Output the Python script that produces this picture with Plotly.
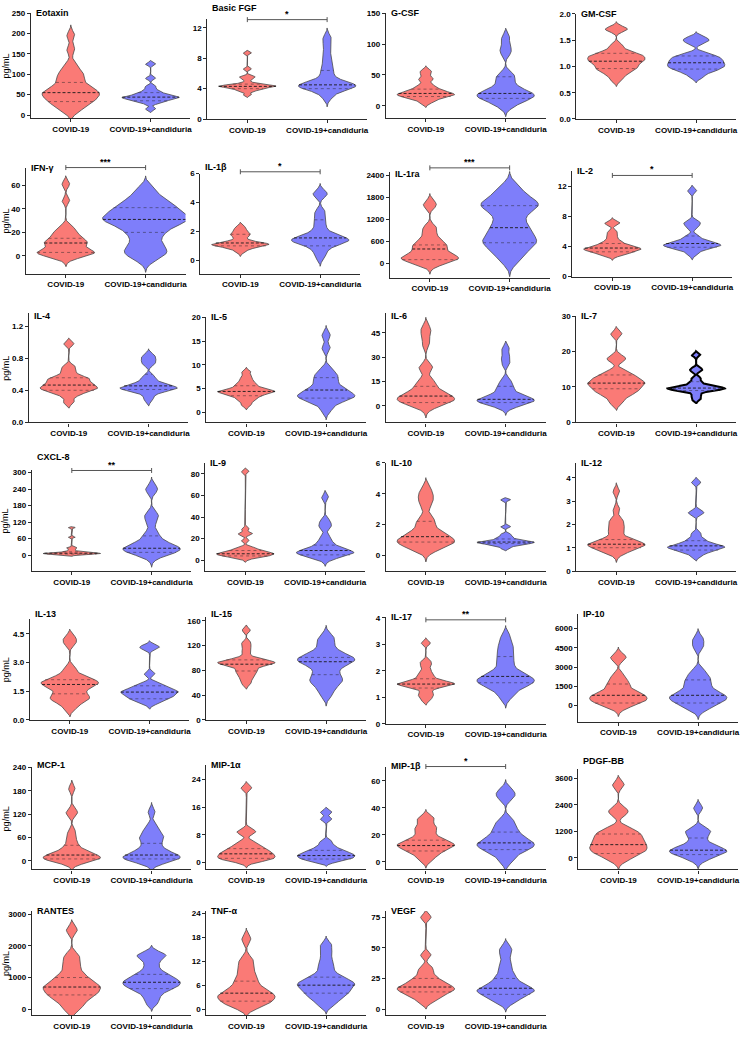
import numpy as np
import plotly.graph_objects as go

W, H = 749, 1041
FONT = "Liberation Sans, Arial, sans-serif"

groups = ["COVID-19", "COVID-19+candiduria"]
analytes = ["Eotaxin", "Basic FGF", "G-CSF", "GM-CSF",
            "IFN-γ", "IL-1β", "IL-1ra", "IL-2",
            "IL-4", "IL-5", "IL-6", "IL-7",
            "CXCL-8", "IL-9", "IL-10", "IL-12",
            "IL-13", "IL-15", "IL-17", "IP-10",
            "MCP-1", "MIP-1α", "MIP-1β", "PDGF-BB",
            "RANTES", "TNF-α", "VEGF"]

# ---- estimated sample values (pg/mL) read from the violin shapes ----
eotaxin_covid = [8, 18, 25, 30, 33, 38, 42, 46, 50, 53, 55, 58, 62, 66, 72, 80, 88, 95, 102, 110, 125, 160, 195]
eotaxin_cand = [15, 28, 33, 36, 38, 40, 42, 43, 44, 45, 47, 50, 53, 56, 62, 70, 90, 125]
fgf_covid = [3.2, 3.6, 3.8, 3.9, 4.0, 4.1, 4.2, 4.25, 4.3, 4.3, 4.35, 4.4, 4.45, 4.5, 4.6, 4.8, 5.2, 5.5, 5.6, 6.6, 8.7]
fgf_cand = [2.8, 3.4, 3.8, 4.0, 4.1, 4.2, 4.3, 4.4, 4.5, 4.5, 4.6, 4.8, 5.0, 5.4, 6.0, 6.5, 7.2, 8.0, 9.0, 10.0, 10.8]
gcsf_covid = [5, 9, 12, 14, 15, 16, 17, 18, 19, 20, 21, 22, 24, 26, 28, 31, 35, 42, 45, 52, 57]
gcsf_cand = [-2, 4, 8, 11, 13, 15, 16, 18, 20, 22, 24, 28, 33, 40, 47, 52, 85, 95, 110]
gmcsf_covid = [0.75, 0.85, 0.9, 0.95, 0.97, 1.0, 1.05, 1.08, 1.1, 1.12, 1.15, 1.18, 1.2, 1.22, 1.25, 1.3, 1.4, 1.7, 1.72]
gmcsf_cand = [0.8, 0.88, 0.92, 0.95, 0.98, 1.0, 1.02, 1.05, 1.07, 1.1, 1.12, 1.15, 1.18, 1.2, 1.25, 1.45, 1.5, 1.55]
ifng_covid = [-2, 0, 1, 2, 2.5, 3, 3.5, 4, 5, 7, 9, 10, 11, 12, 13, 14, 16, 18, 20, 22, 25, 47, 61]
ifng_cand = [-3, 1, 3, 5, 8, 12, 16, 20, 22, 25, 27, 29, 30, 31, 32, 33, 34, 36, 38, 40, 41, 43, 45, 48, 52, 57]
il1b_covid = [0.6, 0.8, 0.9, 1.0, 1.0, 1.05, 1.1, 1.1, 1.15, 1.2, 1.2, 1.3, 1.5, 1.7, 1.8, 1.9, 2.1, 2.3]
il1b_cand = [0.2, 0.6, 0.9, 1.1, 1.2, 1.3, 1.35, 1.4, 1.45, 1.5, 1.6, 1.7, 1.9, 2.2, 2.6, 3.0, 3.4, 4.5, 4.7]
il1ra_covid = [-50, 20, 60, 90, 120, 140, 160, 180, 200, 250, 320, 380, 420, 480, 520, 560, 650, 750, 900, 1000, 1550, 1650]
il1ra_cand = [50, 200, 350, 450, 520, 580, 650, 700, 800, 900, 1000, 1100, 1250, 1400, 1500, 1550, 1600, 1650, 1700, 1800, 1950, 2100]
il2_covid = [2.8, 3.0, 3.2, 3.3, 3.4, 3.5, 3.6, 3.7, 3.75, 3.8, 3.9, 4.0, 4.2, 4.4, 4.6, 5.0, 5.5, 6.0, 7.0, 7.2]
il2_cand = [3.0, 3.5, 3.8, 3.9, 4.0, 4.1, 4.2, 4.3, 4.4, 4.5, 4.7, 5.0, 5.4, 6.5, 7.0, 7.3, 11.4]
il4_covid = [0.25, 0.32, 0.36, 0.38, 0.40, 0.41, 0.42, 0.43, 0.44, 0.46, 0.47, 0.48, 0.50, 0.52, 0.54, 0.55, 0.56, 0.60, 0.65, 0.70, 0.98]
il4_cand = [0.28, 0.34, 0.38, 0.40, 0.41, 0.42, 0.42, 0.43, 0.44, 0.45, 0.46, 0.48, 0.50, 0.54, 0.58, 0.72, 0.76, 0.80, 0.84]
il5_covid = [1.5, 2.3, 2.8, 3.2, 3.5, 3.8, 4.0, 4.2, 4.3, 4.4, 4.5, 4.6, 4.8, 5.1, 5.5, 5.8, 6.2, 6.8, 7.5, 8.5]
il5_cand = [0.5, 1.8, 2.5, 2.9, 3.1, 3.3, 3.5, 3.7, 4.0, 4.5, 4.8, 5.3, 6.0, 6.8, 7.4, 8.0, 9.0, 13.5, 16.2]
il6_covid = [-1, 1, 2, 2.5, 3, 3.5, 4, 5, 6, 6.5, 7, 8, 10, 12, 14, 16, 23, 24, 38, 44, 48]
il6_cand = [-1, 0.5, 1.5, 2, 2.5, 3, 3.5, 4, 4.5, 5, 6, 7, 9, 11, 13, 16, 26, 30, 35]
il7_covid = [5.5, 7, 8, 8.5, 9, 9.5, 10, 10.5, 11, 11, 11.5, 12, 12.5, 13, 13.5, 14.5, 17.5, 18.5, 25]
il7_cand = [6.5, 7.5, 8.5, 9, 9.2, 9.4, 9.5, 9.6, 9.7, 9.8, 10, 10.3, 10.8, 11.5, 12.5, 14.5, 15.2, 19]
cxcl8_covid = [1, 2, 3, 4, 4.5, 5, 5.5, 6, 6.5, 7, 7.5, 8, 9, 10, 12, 15, 20, 25, 28, 65, 100]
cxcl8_cand = [-5, 5, 10, 14, 18, 20, 22, 25, 28, 32, 38, 45, 55, 70, 85, 120, 140, 150, 235, 245]
il9_covid = [1.5, 3, 3.5, 4, 4.5, 5, 5.5, 6, 6, 6.5, 7, 7.5, 8, 9, 10, 11, 12, 18, 24, 25, 29, 82]
il9_cand = [1, 3, 4.5, 5.5, 6, 6.5, 7, 7.5, 8, 9, 10, 11, 13, 15, 18, 22, 30, 33, 37, 58]
il10_covid = [0.3, 0.5, 0.6, 0.7, 0.8, 0.85, 0.9, 1.0, 1.1, 1.2, 1.3, 1.4, 1.6, 1.9, 2.2, 2.4, 3.2, 3.6, 3.9, 4.3]
il10_cand = [0.45, 0.6, 0.65, 0.7, 0.75, 0.78, 0.8, 0.82, 0.85, 0.88, 0.9, 0.95, 1.0, 1.1, 1.2, 1.35, 1.85, 3.6]
il12_covid = [0.75, 0.85, 0.95, 1.0, 1.05, 1.1, 1.1, 1.15, 1.15, 1.2, 1.25, 1.3, 1.4, 1.6, 1.8, 1.85, 2.1, 2.2, 2.65, 3.4]
il12_cand = [0.65, 0.8, 0.85, 0.9, 0.95, 1.0, 1.0, 1.05, 1.05, 1.1, 1.15, 1.2, 1.3, 1.4, 1.6, 2.45, 2.55, 3.8]
il13_covid = [0.6, 0.9, 1.0, 1.1, 1.2, 1.3, 1.4, 1.6, 1.7, 1.8, 1.85, 1.9, 2.0, 2.05, 2.1, 2.2, 2.4, 2.7, 4.0, 4.3]
il13_cand = [0.85, 1.0, 1.1, 1.15, 1.2, 1.3, 1.35, 1.4, 1.45, 1.5, 1.55, 1.6, 1.7, 1.8, 1.9, 2.4, 3.75, 3.85]
il15_covid = [58, 65, 70, 74, 78, 80, 84, 87, 89, 90, 91, 92, 93, 94, 95, 96, 98, 102, 110, 118, 125, 145]
il15_cand = [40, 50, 58, 62, 65, 70, 75, 82, 88, 92, 94, 96, 98, 100, 102, 105, 110, 118, 128, 135]
il17_covid = [0.9, 1.05, 1.15, 1.3, 1.4, 1.45, 1.45, 1.5, 1.5, 1.55, 1.55, 1.6, 1.65, 1.75, 1.85, 2.0, 2.2, 2.35, 3.05]
il17_cand = [1.0, 1.2, 1.35, 1.45, 1.5, 1.55, 1.6, 1.65, 1.7, 1.75, 1.8, 1.9, 2.0, 2.2, 2.4, 2.6, 2.8, 3.0, 3.3]
ip10_covid = [-200, 100, 200, 300, 400, 500, 600, 700, 800, 900, 1000, 1200, 1500, 1700, 2000, 2400, 3600, 3900]
ip10_cand = [-300, 0, 150, 300, 450, 550, 650, 750, 850, 1000, 1200, 1500, 1800, 2000, 2300, 2700, 4600, 5200]
mcp1_covid = [-5, 0, 2, 4, 5, 7, 9, 11, 13, 15, 18, 22, 28, 35, 45, 60, 75, 120, 128, 185]
mcp1_cand = [-5, 0, 3, 5, 7, 9, 11, 14, 16, 20, 25, 32, 40, 50, 58, 62, 68, 80, 90, 125]
mip1a_covid = [0.3, 0.8, 1.0, 1.3, 1.6, 2.0, 2.3, 2.6, 3.0, 3.4, 3.8, 4.3, 5.0, 6.0, 8.5, 9.2, 21.5]
mip1a_cand = [0.3, 0.7, 1.0, 1.3, 1.6, 1.9, 2.1, 2.4, 2.7, 3.0, 3.5, 4.0, 4.8, 6.0, 12.5, 14.5]
mip1b_covid = [1, 4, 6, 8, 9, 10, 11, 12, 12.5, 13, 14, 15, 16, 18, 20, 23, 25, 27, 31, 33]
mip1b_cand = [0, 4, 7, 9, 10, 11, 12, 13, 14, 15, 16, 18, 20, 22, 25, 28, 31, 47, 50, 53]
pdgf_covid = [-100, 100, 200, 300, 350, 450, 550, 600, 700, 800, 900, 1000, 1100, 1200, 1350, 2000, 2200, 3300]
pdgf_cand = [-100, 50, 150, 200, 250, 300, 350, 400, 450, 550, 700, 900, 1100, 1200, 1300, 2250]
rantes_covid = [0, 150, 300, 400, 450, 500, 600, 650, 700, 750, 800, 900, 1000, 1100, 1300, 1500, 1700, 2500]
rantes_cand = [200, 400, 550, 650, 700, 750, 800, 850, 900, 950, 1000, 1100, 1200, 1400, 1600, 1700, 1750]
tnfa_covid = [0.5, 1, 1.5, 2, 2.5, 3, 3.2, 3.5, 4, 4.5, 5, 6, 7, 8, 9.5, 11, 12.5, 17.5]
tnfa_cand = [1, 2, 3, 3.5, 4, 4.5, 5, 5.5, 6, 6.2, 6.5, 7, 7.5, 8, 9, 10.5, 12, 14, 16]
vegf_covid = [6, 9, 11, 13, 14, 15, 16, 17, 18, 19, 20, 22, 24, 26, 30, 34, 44, 75]
vegf_cand = [5, 8, 10, 12, 13, 14, 15, 16, 17, 18, 20, 22, 25, 28, 33, 38, 45, 50]

covid_samples = [eotaxin_covid, fgf_covid, gcsf_covid, gmcsf_covid, ifng_covid, il1b_covid, il1ra_covid,
                 il2_covid, il4_covid, il5_covid, il6_covid, il7_covid, cxcl8_covid, il9_covid, il10_covid,
                 il12_covid, il13_covid, il15_covid, il17_covid, ip10_covid, mcp1_covid, mip1a_covid,
                 mip1b_covid, pdgf_covid, rantes_covid, tnfa_covid, vegf_covid]
cand_samples = [eotaxin_cand, fgf_cand, gcsf_cand, gmcsf_cand, ifng_cand, il1b_cand, il1ra_cand,
                il2_cand, il4_cand, il5_cand, il6_cand, il7_cand, cxcl8_cand, il9_cand, il10_cand,
                il12_cand, il13_cand, il15_cand, il17_cand, ip10_cand, mcp1_cand, mip1a_cand,
                mip1b_cand, pdgf_cand, rantes_cand, tnfa_cand, vegf_cand]

# medians and quartiles as drawn
covid_median = [55, 4.3, 20, 1.1, 11, 1.2, 390, 3.8, 0.465, 4.4, 6, 11.1, 7, 6, 1.2, 1.15, 1.85, 90, 1.5, 800, 15, 2.5, 12, 600, 700, 4, 18]
covid_q1 = [33, 4.0, 15, 0.96, 3, 1.0, 100, 3.3, 0.40, 3.5, 2, 9.5, 4, 4, 0.85, 1.0, 1.36, 79, 1.35, 200, 5, 1.2, 8, 200, 450, 2, 14]
covid_q3 = [80, 4.6, 27, 1.25, 15, 1.8, 500, 4.4, 0.556, 5.6, 12, 13.4, 12, 9, 2.2, 1.35, 2.1, 97, 1.7, 1680, 40, 4, 16, 1080, 1000, 7, 25]
cand_median = [44, 4.5, 20, 1.07, 31, 1.55, 970, 4.4, 0.455, 4.7, 4, 9.7, 25, 9, 0.85, 1.08, 1.45, 94, 1.79, 800, 15, 2, 14, 350, 850, 6, 17]
cand_q1 = [35, 4.0, 12, 0.95, 20, 1.0, 560, 3.9, 0.41, 3.0, 2, 9.0, 10, 5, 0.75, 0.9, 1.1, 73, 1.55, 200, 5, 1, 9, 150, 650, 4, 12]
cand_q3 = [55, 6.4, 47, 1.2, 41, 2.8, 1570, 5.4, 0.60, 7.3, 12, 11.5, 70, 14, 1.05, 1.3, 1.78, 101, 2.54, 2000, 45, 3.5, 22, 900, 1100, 8, 25]

# y axes
y_min = [-7.3, 0, -19.8, 0, -15, -0.92, -390, 0, 0, -2.1, -10.2, 0, -58, -10, -1.04, 0, 0, 0, 0, -1260, -22, -2, -5.7, -520, -190, -1.5, -5]
y_max = [250, 13.2, 150, 2.0, 75, 6.0, 2500, 14.1, 1.36, 20, 57, 30, 310, 90, 6.0, 4.63, 5.3, 167, 4.05, 7160, 240, 28, 70, 4000, 3100, 24.5, 80]
y_ticks = [[0, 50, 100, 150, 200, 250], [0, 4, 8, 12], [0, 50, 100, 150], [0.0, 0.5, 1.0, 1.5, 2.0],
           [0, 20, 40, 60], [0, 2, 4, 6], [0, 600, 1200, 1800, 2400], [0, 4, 8, 12],
           [0.0, 0.4, 0.8, 1.2], [0, 5, 10, 15, 20], [0, 15, 30, 45], [0, 10, 20, 30],
           [0, 60, 120, 180, 240, 300], [0, 20, 40, 60, 80], [0, 2, 4, 6], [0, 1, 2, 3, 4],
           [0.0, 1.5, 3.0, 4.5], [0, 40, 80, 120, 160], [0, 1, 2, 3, 4], [0, 1500, 3000, 4500, 6000],
           [0, 60, 120, 180, 240], [0, 8, 16, 24], [0, 20, 40, 60], [0, 1200, 2400, 3600],
           [0, 1000, 2000, 3000], [0, 6, 12, 18, 24], [0, 25, 50, 75]]
y_tickfmt = ["{:.0f}", "{:.0f}", "{:.0f}", "{:.1f}", "{:.0f}", "{:.0f}", "{:.0f}", "{:.0f}",
             "{:.1f}", "{:.0f}", "{:.0f}", "{:.0f}", "{:.0f}", "{:.0f}", "{:.0f}", "{:.0f}",
             "{:.1f}", "{:.0f}", "{:.0f}", "{:.0f}", "{:.0f}", "{:.0f}", "{:.0f}", "{:.0f}",
             "{:.0f}", "{:.0f}", "{:.0f}"]

# significance brackets
sig_label = {"Basic FGF": "*", "IFN-γ": "***", "IL-1β": "*", "IL-1ra": "***",
             "IL-2": "*", "CXCL-8": "**", "IL-17": "**", "MIP-1β": "*"}
sig_level = {"Basic FGF": 13.1, "IFN-γ": 75, "IL-1β": 6.12, "IL-1ra": 2600,
             "IL-2": 13.45, "CXCL-8": 308, "IL-17": 3.93, "MIP-1β": 70.6}

# ---- layout (pixel positions of each panel) ----
panel_left = [31, 208, 387, 578, 26, 201, 391, 574, 29, 207, 387, 578, 32, 206, 387, 578,
              30, 207, 387, 580, 32, 207, 387, 580, 32, 207, 387]
panel_top = [9.3, 15, 9.3, 10, 165, 171, 169, 168, 312, 316, 312, 315, 470, 463, 463, 463,
             620, 618, 618, 615, 770, 768, 770, 772, 915, 915, 915]
panel_bottom = [115, 116, 115, 116, 272, 272, 276, 275, 422, 422, 422, 422, 572, 572, 572, 572,
                722, 722, 726, 724, 873, 873, 873, 873, 1020, 1020, 1020]
title_dy = [0, 11, 0, 0, 0, 7, -2, 0, -3, 0, -3, 0, 13, 0, 0, 0, 5, 3, 0, 0, 2, 0, 1, 8, 0, 0, 0]
cand_width = {"IFN-γ": 1.5}
PW = 160
HALF = 0.36

RED = "rgb(250,122,118)"
BLUE = "rgb(126,126,250)"
EDGE = "#4a4a4a"
AX = "#2b2b2b"


def kde_profile(samples, bwf=0.55, n=500):
    s = np.asarray(samples, float)
    q75, q25 = np.percentile(s, [75, 25])
    sig = min(s.std(ddof=1), (q75 - q25) / 1.34)
    h = bwf * 0.9 * sig * len(s) ** -0.2
    lo, hi = s.min() - 2.6 * h, s.max() + 2.6 * h
    y = np.linspace(lo, hi, n)
    d = np.exp(-0.5 * ((y[:, None] - s[None, :]) / h) ** 2).sum(1)
    d = d - d.min()
    return y, d / d.max()


fig = go.Figure()
layout = {}
shapes = []
annotations = []


def ypix(i, v):
    t, b = panel_top[i], panel_bottom[i]
    return b - (v - y_min[i]) / (y_max[i] - y_min[i]) * (b - t)


for i, name in enumerate(analytes):
    k = i + 1
    sx = "" if k == 1 else str(k)
    xr, yr = "x" + sx, "y" + sx
    left, top, bot = panel_left[i], panel_top[i], panel_bottom[i]
    layout["xaxis" + sx] = dict(
        domain=[left / W, (left + PW) / W], range=[-0.5, 1.5], anchor=yr,
        tickvals=[0, 1], ticktext=groups, showline=True, linecolor=AX, linewidth=1.3,
        ticks="outside", ticklen=3, tickwidth=1.2, tickcolor=AX, showgrid=False, zeroline=False,
        tickfont=dict(family=FONT, size=8, color="black", weight="bold"), fixedrange=True)
    layout["yaxis" + sx] = dict(
        domain=[1 - bot / H, 1 - top / H], range=[y_min[i], y_max[i]], anchor=xr,
        tickvals=y_ticks[i], ticktext=[y_tickfmt[i].format(v) for v in y_ticks[i]],
        showline=True, linecolor=AX, linewidth=1.3, ticks="outside", ticklen=3, tickwidth=1.2,
        tickcolor=AX, showgrid=False, zeroline=False,
        tickfont=dict(family=FONT, size=8, color="black", weight="bold"), fixedrange=True)

    sets = [(covid_samples[i], covid_median[i], covid_q1[i], covid_q3[i], RED, 1.0),
            (cand_samples[i], cand_median[i], cand_q1[i], cand_q3[i], BLUE, cand_width.get(name, 1.0))]
    for g, (smp, med, q1, q3, col, wf) in enumerate(sets):
        yy, dd = kde_profile(smp)
        hw = HALF * wf * dd
        xs = np.concatenate([g + hw, (g - hw)[::-1], [g + hw[0]]])
        ys = np.concatenate([yy, yy[::-1], [yy[0]]])
        thick = (name == "IL-7" and g == 1)
        fig.add_trace(go.Scatter(x=xs, y=ys, mode="lines", fill="toself", fillcolor=col,
                                 line=dict(color="black" if thick else EDGE, width=2.0 if thick else 0.8),
                                 xaxis=xr, yaxis=yr, hoverinfo="skip", showlegend=False))
        for val, dash, lc, lw in [(q1, "dot", "#6a4040" if g == 0 else "#40406a", 0.7),
                                  (q3, "dot", "#6a4040" if g == 0 else "#40406a", 0.7),
                                  (med, "3px,2px", "#1a1a1a", 0.9)]:
            hwv = float(np.interp(val, yy, hw))
            fig.add_trace(go.Scatter(x=[g - hwv, g + hwv], y=[val, val], mode="lines",
                                     line=dict(color=lc, width=lw, dash=dash),
                                     xaxis=xr, yaxis=yr, hoverinfo="skip", showlegend=False))

    annotations.append(dict(text=name, xref="paper", yref="paper", x=(left + 3) / W,
                            y=1 - (top - title_dy[i]) / H, xanchor="left", yanchor="middle",
                            showarrow=False, font=dict(family=FONT, size=9, color="black", weight="bold")))
    if i % 4 == 0:
        annotations.append(dict(text="pg/mL", xref="paper", yref="paper", x=6 / W,
                                y=1 - (top + bot) / 2 / H, textangle=-90, xanchor="center",
                                yanchor="middle", showarrow=False,
                                font=dict(family=FONT, size=9, color="black")))
    if name in sig_label:
        py = ypix(i, sig_level[name])
        x0, x1 = (0 + 0.5) / 2.0, (1 + 0.5) / 2.0
        yp = 1 - py / H
        shapes.append(dict(type="line", xref=xr + " domain", yref="paper", x0=x0, x1=x1, y0=yp, y1=yp,
                           line=dict(color="#555555", width=1)))
        for xe in (x0, x1):
            shapes.append(dict(type="line", xref=xr + " domain", yref="paper", x0=xe, x1=xe,
                               y0=1 - (py - 2.5) / H, y1=1 - (py + 2.5) / H,
                               line=dict(color="#555555", width=1)))
        annotations.append(dict(text=sig_label[name], xref="paper", yref="paper",
                                x=(left + PW / 2) / W, y=1 - (py - 6) / H, xanchor="center",
                                yanchor="middle", showarrow=False,
                                font=dict(family=FONT, size=9, color="black", weight="bold")))

fig.update_layout(width=W, height=H, margin=dict(l=0, r=0, t=0, b=0), autosize=False,
                  paper_bgcolor="white", plot_bgcolor="white", showlegend=False,
                  shapes=shapes, annotations=annotations, **layout)
fig.write_html("out.html", config={"displayModeBar": False},
               post_script="document.body.style.margin='0';document.body.style.overflow='hidden';")
